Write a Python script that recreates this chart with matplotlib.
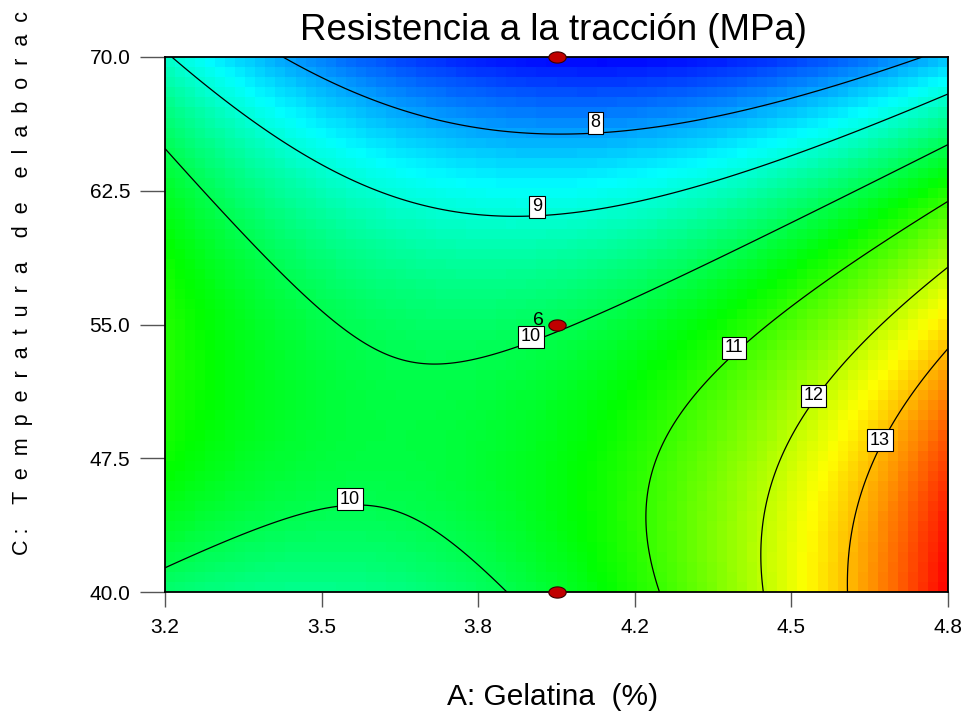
import numpy as np
import matplotlib
matplotlib.use("Agg")
import matplotlib.pyplot as plt
from matplotlib.colors import LinearSegmentedColormap
from matplotlib.path import Path

# factor ranges (actual units)
gelatina_range = [3.2, 4.8]      # A: Gelatina (%)
temp_range = [40.0, 70.0]        # C: Temperatura de elaboracion

# fitted quadratic model in coded units: b0, A, C, AC, A^2, C^2
coef = [9.953, 0.941, -1.732, -1.374, 1.838, -1.421]

contour_levels = [8, 9, 10, 11, 12, 13]
# contour labels: level, A, C
label_level = [8, 9, 10, 10, 11, 12, 13]
label_A = [4.079, 3.960, 3.948, 3.578, 4.363, 4.526, 4.661]
label_C = [66.3, 61.6, 54.3, 45.2, 53.7, 51.0, 48.5]

# design points shown on the slice
design_A = [4.0, 4.0, 4.0]
design_C = [70.0, 55.0, 40.0]
center_reps = 6

xticks = np.linspace(3.2, 4.8, 6)
yticks = [40.0, 47.5, 55.0, 62.5, 70.0]


def model(A, C):
    x = (A - 4.0) / 0.8
    y = (C - 55.0) / 15.0
    b0, b1, b2, b12, b11, b22 = coef
    return b0 + b1 * x + b2 * y + b12 * x * y + b11 * x**2 + b22 * y**2


plt.rcParams['font.family'] = ['Liberation Sans', 'DejaVu Sans']

cmap = LinearSegmentedColormap.from_list(
    "de", ["#0000ff", "#00ffff", "#00ff00", "#ffff00", "#ff0000"])

fig = plt.figure(figsize=(9.66, 7.16), dpi=100)
ax = fig.add_axes([165 / 966, 1 - 592 / 716, 783 / 966, 535 / 716])

# blocky colour fill
ex = np.linspace(gelatina_range[0], gelatina_range[1], 79)
ey = np.linspace(temp_range[0], temp_range[1], 54)
cx = (ex[:-1] + ex[1:]) / 2
cy = (ey[:-1] + ey[1:]) / 2
CX, CY = np.meshgrid(cx, cy)
Zc = model(CX, CY)
fx = np.linspace(gelatina_range[0], gelatina_range[1], 300)
fy = np.linspace(temp_range[0], temp_range[1], 300)
FX, FY = np.meshgrid(fx, fy)
Zf = model(FX, FY)
ax.pcolormesh(ex, ey, Zc, cmap=cmap, vmin=Zf.min(), vmax=Zf.max(), shading='flat')

ax.contour(FX, FY, Zf, levels=contour_levels, colors='k', linewidths=0.9)
for lev, a, c in zip(label_level, label_A, label_C):
    ax.text(a, c, str(lev), ha='center', va='center', fontsize=13, zorder=4,
            bbox=dict(facecolor='white', edgecolor='black', linewidth=0.8, pad=1.8))

# elliptical design-point markers
th = np.linspace(0, 2 * np.pi, 60)
ell = Path(np.column_stack([1.55 * np.cos(th), np.sin(th)]))
ax.plot(design_A, design_C, linestyle='none', marker=ell, markersize=12.5,
        markerfacecolor='#c00000', markeredgecolor='#3a0000', markeredgewidth=0.8,
        clip_on=False, zorder=5)
ax.annotate(str(center_reps), (design_A[1], design_C[1]), xytext=(-9, 3),
            textcoords='offset points', ha='right', va='center', fontsize=14, zorder=6)

ax.set_xlim(gelatina_range)
ax.set_ylim(temp_range)
ax.set_xticks(xticks)
ax.set_xticklabels(["%.1f" % v for v in xticks])
ax.set_yticks(yticks)
ax.set_yticklabels(["%.1f" % v for v in yticks])
ax.tick_params(axis='x', length=11, width=1, color='#555555', pad=8, labelsize=15)
ax.tick_params(axis='y', length=18, width=1, color='#555555', pad=7, labelsize=15)
for s in ax.spines.values():
    s.set_linewidth(1.3)
    s.set_color('black')

fig.text(553 / 966, 1 - 30 / 716, "Resistencia a la tracción (MPa)",
         ha='center', va='center', fontsize=26.4)
fig.text(553 / 966, 1 - 697 / 716, "A: Gelatina  (%)",
         ha='center', va='center', fontsize=21.5)
ylab = "    ".join("  ".join(w) for w in ["C:", "Temperatura", "de", "elaborac"])
ylab = ylab.replace("C  :", "C :")
fig.text(23 / 966, 1 - 283 / 716, ylab, rotation=90,
         ha='center', va='center', fontsize=15.5)

fig.savefig("out.png")
